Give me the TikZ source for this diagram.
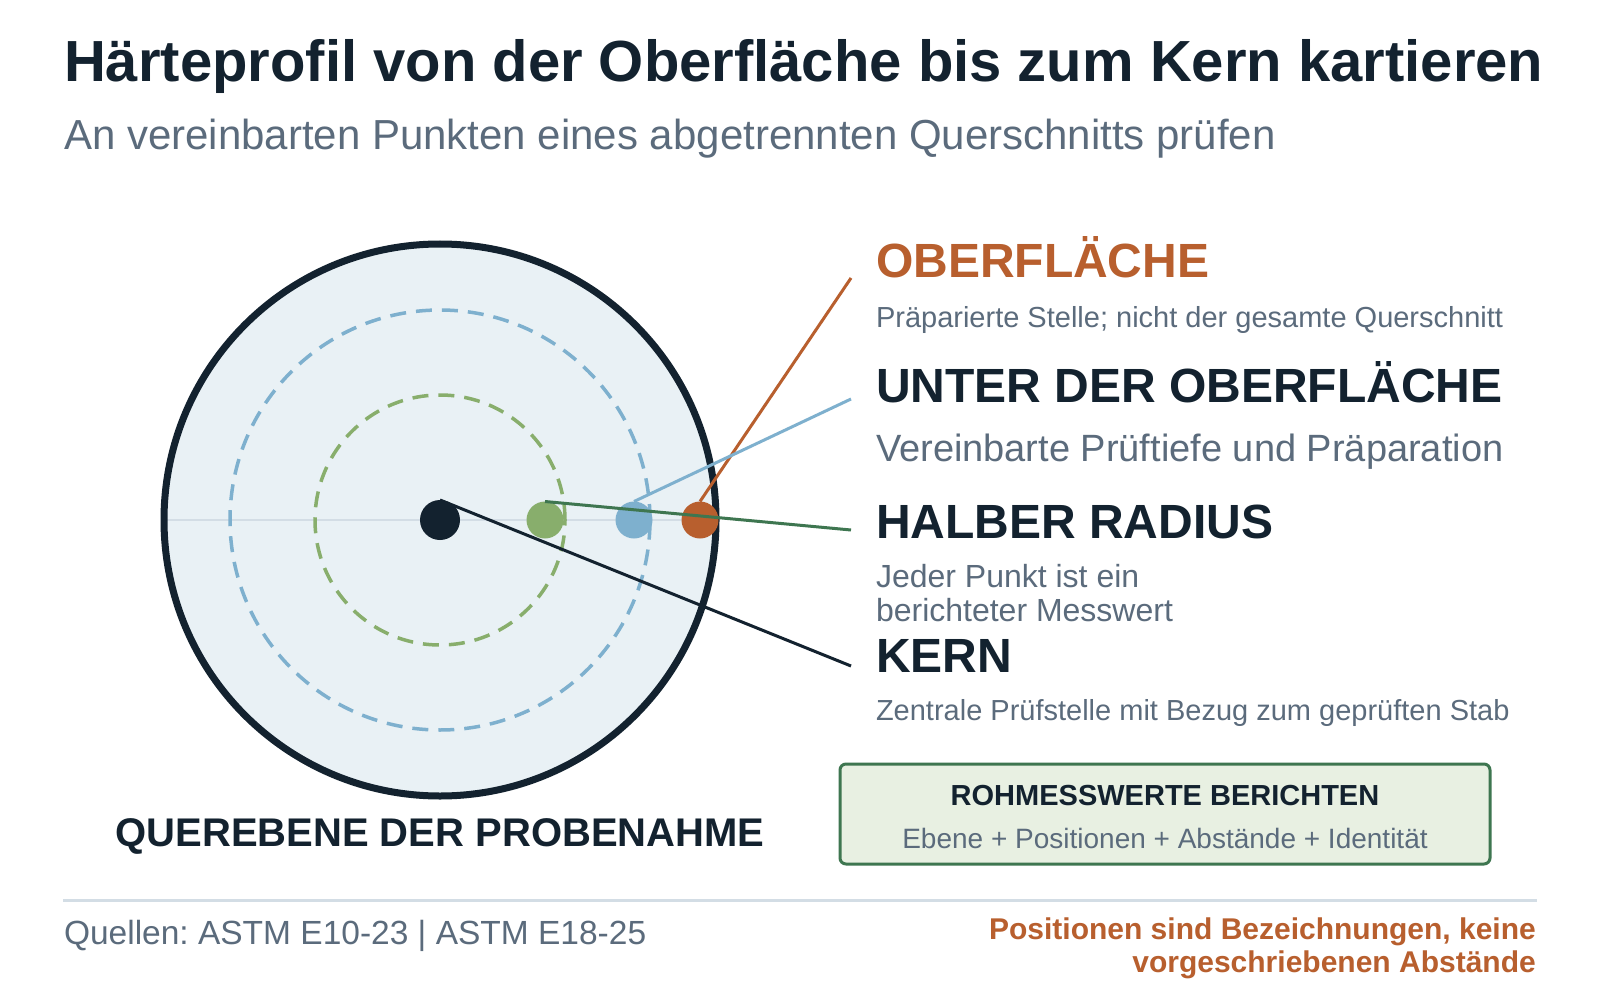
\documentclass[tikz,border=0pt]{standalone}
\usepackage{fontspec}
\setmainfont{Liberation Sans}
\frenchspacing
\definecolor{navy}{HTML}{13222F}
\definecolor{gtext}{HTML}{5B6B7C}
\definecolor{orng}{HTML}{B85F2E}
\definecolor{lblue}{HTML}{7EB0CE}
\definecolor{lgreen}{HTML}{88AE6C}
\definecolor{dkgreen}{HTML}{3E7650}
\definecolor{cfill}{HTML}{E9F1F5}
\definecolor{axisgray}{HTML}{D3DDE5}
\definecolor{boxfill}{HTML}{E8F0E2}
\newcommand\fsz[2]{\fontsize{#1}{#2}\selectfont}
\tikzset{
  txt/.style={inner sep=0pt, outer sep=0pt, anchor=base west},
  head/.style={txt, font=\fsz{48}{56}\bfseries, text=navy},
  desc/.style={txt, text=gtext},
  dot/.style={circle, inner sep=0pt, outer sep=0pt},
  leader/.style={line width=3pt},
}
\begin{document}
\begin{tikzpicture}[x=1pt,y=-1pt]
\useasboundingbox (0,0) rectangle (1600,1000);
\fill[white] (0,0) rectangle (1600,1000);
% title
\node[txt, font=\fsz{58}{64}\bfseries, text=navy] (title) at (64,82) {Härteprofil von der Oberfläche bis zum Kern kartieren};
\node[txt, font=\fsz{42}{48}, text=gtext] (subtitle) at (64,150) {An vereinbarten Punkten eines abgetrennten Querschnitts prüfen};
% cross-section
\coordinate (c) at (440,520);
\fill[cfill] (c) circle[radius=276pt];
\draw[axisgray, line width=2pt] (164,520) -- (716,520);
\draw[lblue, line width=3.5pt, dash pattern=on 16pt off 10pt] (c) circle[radius=210pt];
\draw[lgreen, line width=3.5pt, dash pattern=on 16pt off 10pt] (c) circle[radius=125pt];
\draw[navy, line width=7pt] (c) circle[radius=276pt];
\node[dot, fill=navy, minimum size=40pt] (core) at (440,520) {};
\node[dot, fill=lgreen, minimum size=37pt] (half) at (545,520) {};
\node[dot, fill=lblue, minimum size=37pt] (sub) at (634,520) {};
\node[dot, fill=orng, minimum size=37pt] (surf) at (700,520) {};
% labels
\node[txt, font=\fsz{48}{56}\bfseries, text=orng] (lsurf) at (876,277) {OBERFLÄCHE};
\node[desc, font=\fsz{29}{34}] (dsurf) at (876,327) {Präparierte Stelle; nicht der gesamte Querschnitt};
\node[head] (lsub) at (876,402) {UNTER DER OBERFLÄCHE};
\node[desc, font=\fsz{38}{44}] (dsub) at (876,461) {Vereinbarte Prüftiefe und Präparation};
\node[head] (lhalf) at (876,538) {HALBER RADIUS};
\node[desc, font=\fsz{32}{34}] (dhalf1) at (876,587) {Jeder Punkt ist ein};
\node[desc, font=\fsz{32}{34}] (dhalf2) at (876,621) {berichteter Messwert};
\node[head] (lcore) at (876,672) {KERN};
\node[desc, font=\fsz{29}{34}] (dcore) at (876,720) {Zentrale Prüfstelle mit Bezug zum geprüften Stab};
% leader ends
\coordinate (esurf) at (851,278);
\coordinate (esub) at (851,399);
\coordinate (ehalf) at (851,530);
\coordinate (ecore) at (851,666);
\draw[leader, orng] (surf.north) -- (esurf);
\draw[leader, lblue] (sub.north) -- (esub);
\draw[leader, dkgreen] (half.north) -- (ehalf);
\draw[leader, navy] (core.north) -- (ecore);
% caption
\node[inner sep=0pt, anchor=base, font=\fsz{40}{46}\bfseries, text=navy] (cap) at (440,846) {QUEREBENE DER PROBENAHME};
% box
\node[draw=dkgreen, line width=3pt, fill=boxfill, rounded corners=6pt, minimum width=650pt, minimum height=100pt, inner sep=0pt] (box) at (1165,814) {};
\node[inner sep=0pt, anchor=base, font=\fsz{29}{34}\bfseries, text=navy] (boxt) at (1165,805) {ROHMESSWERTE BERICHTEN};
\node[inner sep=0pt, anchor=base, font=\fsz{28}{34}, text=gtext] (boxd) at (1165,848) {Ebene + Positionen + Abstände + Identität};
% footer
\draw[axisgray, line width=3pt] (63,900) -- (1537,900);
\node[txt, font=\fsz{33.5}{38}, text=gtext] (src) at (64,944) {Quellen: ASTM E10-23 | ASTM E18-25};
\node[inner sep=0pt, anchor=base east, font=\fsz{30}{33}\bfseries, text=orng] (note1) at (1536,939) {Positionen sind Bezeichnungen, keine};
\node[inner sep=0pt, anchor=base east, font=\fsz{30}{33}\bfseries, text=orng] (note2) at (1536,972) {vorgeschriebenen Abstände};
\end{tikzpicture}
\end{document}
